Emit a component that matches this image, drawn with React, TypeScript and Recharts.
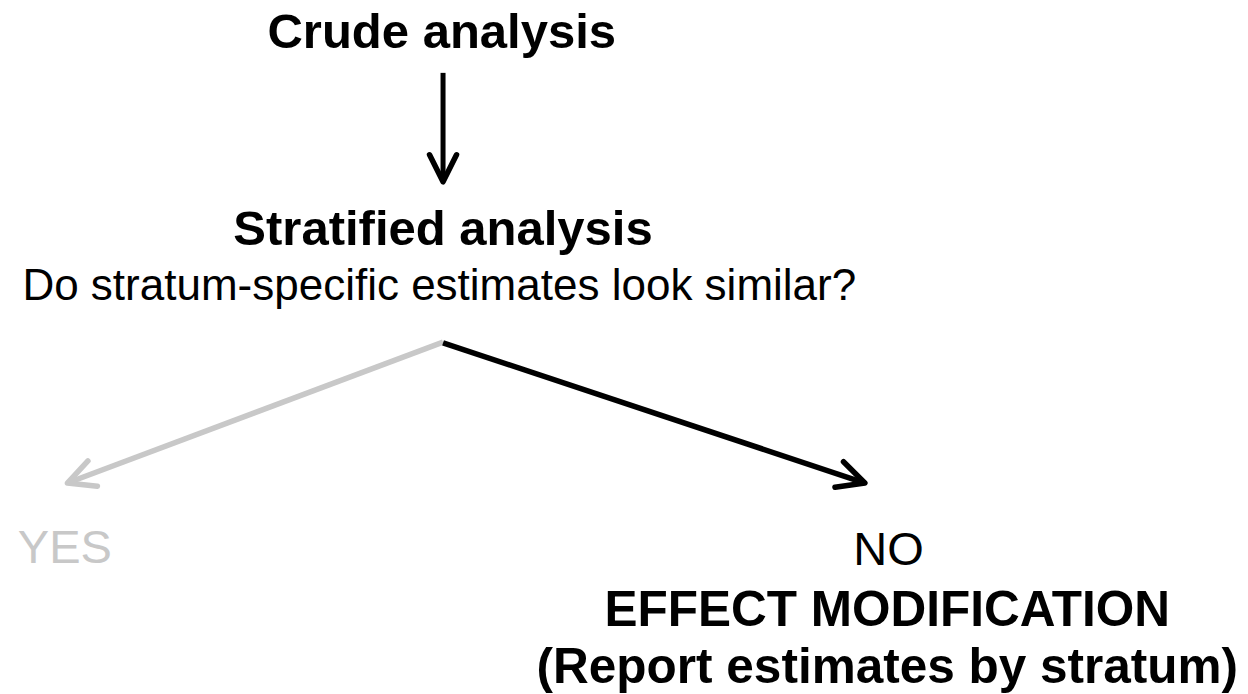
import React from 'react';
import { ComposedChart, Line, Scatter, XAxis, YAxis } from 'recharts';

// Flow diagram drawn on a 0-100 x 0-100 layout grid (y grows downward)
const labels = [
  'Crude analysis',
  'Stratified analysis',
  'Do stratum-specific estimates look similar?',
  'YES',
  'NO',
  'EFFECT MODIFICATION',
  '(Report estimates by stratum)',
];
const labelX = [35.4, 35.5, 35.2, 5.2, 71.2, 71.1, 71.1];
const labelY = [6.9, 35.3, 43.2, 81.1, 81.4, 90.2, 98.4];
const labelKind = ['step', 'step', 'question', 'yes', 'no', 'result', 'result'];

const arrowNames = ['crude-to-stratified', 'similar-yes', 'similar-no'];
const arrowX = [
  [35.5, 35.5],
  [35.5, 5.4],
  [35.5, 69.3],
];
const arrowY = [
  [10.5, 26.2],
  [49.3, 69.6],
  [49.4, 69.6],
];

const GRAY = '#c8c8c8';
const FONT = '"Liberation Sans", Arial, Helvetica, sans-serif';

const kindStyle: Record<string, { size: number; weight: number; color: string }> = {
  step: { size: 49, weight: 700, color: '#000' },
  question: { size: 44, weight: 400, color: '#000' },
  yes: { size: 47, weight: 400, color: GRAY },
  no: { size: 47, weight: 400, color: '#000' },
  result: { size: 49.5, weight: 700, color: '#000' },
};

const labelRows = labels.map((text, i) => ({
  x: labelX[i],
  y: labelY[i],
  text,
  kind: labelKind[i],
}));

const arrows = arrowNames.map((name, i) => ({
  name,
  points: arrowX[i].map((x, j) => ({ x, y: arrowY[i][j] })),
}));

const arrowColor = (name: string) => (name === 'similar-yes' ? GRAY : '#000');

const LabelText = (props: any) => {
  const { cx, cy, payload } = props;
  const s = kindStyle[payload.kind];
  return (
    <text
      x={cx}
      y={cy}
      textAnchor="middle"
      fontFamily={FONT}
      fontSize={s.size}
      fontWeight={s.weight}
      fill={s.color}
    >
      {payload.text}
    </text>
  );
};

const Head = ({ id, color }: { id: string; color: string }) => (
  <marker
    id={id}
    markerUnits="userSpaceOnUse"
    markerWidth={1}
    markerHeight={1}
    refX={0}
    refY={0}
    orient="auto"
    overflow="visible"
  >
    <path
      d="M -27 -13.5 L 0 0 L -27 13.5"
      fill="none"
      stroke={color}
      strokeWidth={5.5}
      strokeLinecap="round"
      strokeLinejoin="round"
    />
  </marker>
);

export default function App() {
  return (
    <div style={{ position: 'absolute', left: 0, top: 0, width: 1248, height: 694, background: '#fff' }}>
      <svg width={0} height={0} style={{ position: 'absolute' }}>
        <defs>
          <Head id="head-black" color="#000" />
          <Head id="head-gray" color={GRAY} />
        </defs>
      </svg>
      <ComposedChart width={1248} height={694} margin={{ top: 0, right: 0, bottom: 0, left: 0 }}>
        <XAxis type="number" dataKey="x" domain={[0, 100]} hide allowDataOverflow />
        <YAxis type="number" dataKey="y" domain={[0, 100]} reversed hide allowDataOverflow />
        {arrows.map((a) => (
          <Line
            key={a.name}
            data={a.points}
            dataKey="y"
            type="linear"
            stroke={arrowColor(a.name)}
            strokeWidth={a.name === 'crude-to-stratified' ? 5 : 5.5}
            dot={false}
            activeDot={false}
            markerEnd={`url(#${a.name === 'similar-yes' ? 'head-gray' : 'head-black'})`}
            isAnimationActive={false}
          />
        ))}
        <Scatter data={labelRows} dataKey="y" shape={LabelText} isAnimationActive={false} />
      </ComposedChart>
    </div>
  );
}
